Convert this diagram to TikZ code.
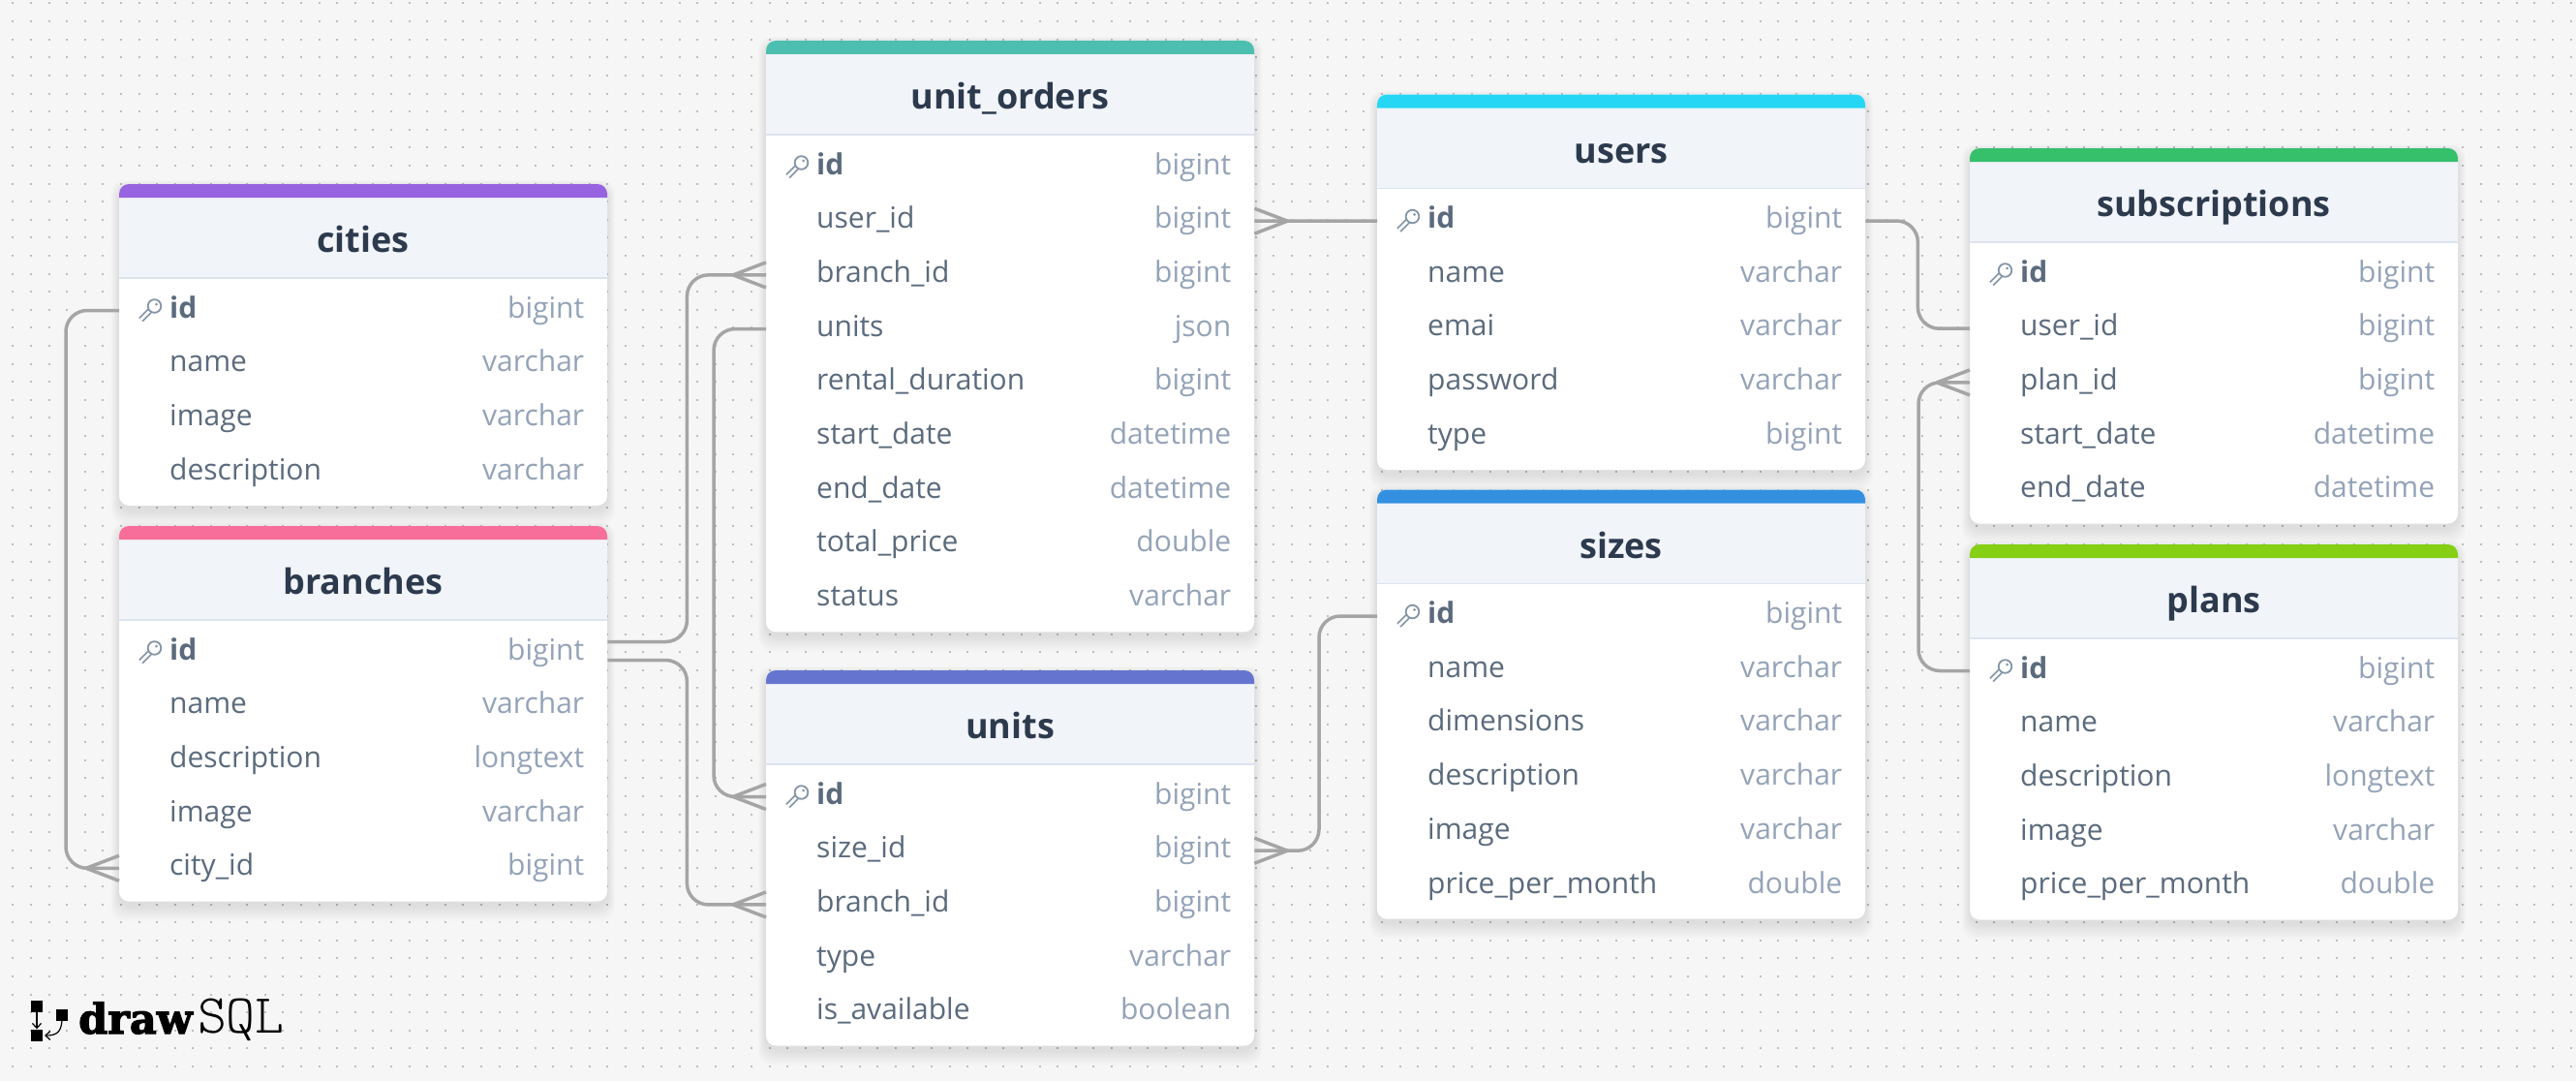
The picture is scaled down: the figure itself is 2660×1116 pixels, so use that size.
\documentclass[tikz,border=0pt]{standalone}
\usepackage{fontspec}
\setmainfont{Open Sans}
\newfontfamily\logoheavy[BoldFeatures={FakeBold=2.6}]{DejaVu Serif}
\usetikzlibrary{calc, arrows.meta}

\definecolor{bgc}{HTML}{F6F6F6}
\definecolor{dotc}{HTML}{BEBEBE}
\definecolor{headc}{HTML}{F1F4F9}
\definecolor{rulec}{HTML}{DCE4F0}
\definecolor{titlec}{HTML}{2D3A4E}
\definecolor{fieldc}{HTML}{5B6B7D}
\definecolor{typec}{HTML}{94A3B8}
\definecolor{keyc}{HTML}{8495A8}
\definecolor{linkc}{HTML}{A5A5A5}
\definecolor{barcities}{HTML}{9863E0}
\definecolor{barbranches}{HTML}{F76E9A}
\definecolor{barorders}{HTML}{4DBFB0}
\definecolor{barunits}{HTML}{6575CF}
\definecolor{barusers}{HTML}{25D7F5}
\definecolor{barsizes}{HTML}{3390E0}
\definecolor{barsubs}{HTML}{36C06C}
\definecolor{barplans}{HTML}{85CF15}

\tikzset{
	link/.style={draw=linkc, line width=3.5pt, rounded corners=22pt},
	title/.style={font=\fontsize{36}{40}\bfseries\selectfont, text=titlec, inner sep=0pt, anchor=base},
	fieldrow/.style={inner sep=0pt, minimum height=55.7pt, text height=22pt, text depth=7pt,
		font=\fontsize{30}{34}\selectfont},
	crowleft/.pic={\draw[link, rounded corners=0pt, line join=round] (0,-13) -- (-34,0) -- (0,13);},
	crowright/.pic={\draw[link, rounded corners=0pt, line join=round] (0,-13) -- (34,0) -- (0,13);},
	keyicon/.pic={
		\draw[keyc, line width=1.8pt, double=white, double distance=2.6pt] (-1,1) -- (-10,10);
		\draw[keyc, line width=1.8pt, fill=white] (4,-4) circle (6.8);
		\fill[keyc] (6,-6) circle (1.5);
	},
}

% name, x, y, colour, number of rows, rows after the id
\newcommand{\dbtable}[6]{
	\begin{scope}[shift={(#2,#3)}]
		\foreach \s in {16,14,...,2}
			\fill[black, opacity=.012, rounded corners=14pt] (-\s/2,4-\s/2) rectangle ({504+\s/2},{109+55.7*#5+4+\s});
		\fill[white, rounded corners=10pt] (0,0) rectangle ({504},{109+55.7*#5});
		\fill[headc] (0,14) rectangle (504,97);
		\draw[rulec, line width=1.5pt] (0,97) -- (504,97);
		\fill[#4] (0,14) [rounded corners=10pt] -- (0,0) -- (504,0) [sharp corners] -- (504,14) -- cycle;
		\node[title] (#1-head) at (252,70.5) {#1};
		\node[fieldrow, anchor=west] (#1-id) at (0,130.5)
			{\makebox[504pt]{\hspace{52pt}\textcolor{fieldc}{\textbf{id}}\hfill\textcolor{typec}{bigint}\hspace{24pt}}};
		\pic at (32.5,130) {keyicon};
		\foreach \fld/\typ [count=\i] in {#6}
			\node[fieldrow, anchor=west] (#1-\fld) at (0,{130.5+55.7*\i})
				{\makebox[504pt]{\hspace{52pt}\textcolor{fieldc}{\fld}\hfill\textcolor{typec}{\typ}\hspace{24pt}}};
	\end{scope}
}

\catcode`\_=12
\begin{document}
\begin{tikzpicture}[x=1pt, y=-1pt]

	\useasboundingbox (0,0) rectangle (2660,1116);
	\fill[bgc] (0,0) rectangle (2660,1116);
	\foreach \j in {0,...,59}
		\draw[dotc, line width=2pt, dash pattern=on 2pt off 16.6pt] (12.4,{3.5+18.6*\j}) -- (2660,{3.5+18.6*\j});

	\dbtable{cities}{123}{190}{barcities}{4}{name/varchar, image/varchar, description/varchar}
	\dbtable{branches}{123}{543}{barbranches}{5}{name/varchar, description/longtext, image/varchar, city_id/bigint}
	\dbtable{unit_orders}{791}{42}{barorders}{9}{user_id/bigint, branch_id/bigint, units/json, rental_duration/bigint, start_date/datetime, end_date/datetime, total_price/double, status/varchar}
	\dbtable{units}{791}{692}{barunits}{5}{size_id/bigint, branch_id/bigint, type/varchar, is_available/boolean}
	\dbtable{users}{1422}{97.5}{barusers}{5}{name/varchar, emai/varchar, password/varchar, type/bigint}
	\dbtable{sizes}{1422}{505.5}{barsizes}{6}{name/varchar, dimensions/varchar, description/varchar, image/varchar, price_per_month/double}
	\dbtable{subscriptions}{2034}{153}{barsubs}{5}{user_id/bigint, plan_id/bigint, start_date/datetime, end_date/datetime}
	\dbtable{plans}{2034}{562}{barplans}{5}{name/varchar, description/longtext, image/varchar, price_per_month/double}

	% relations
	\draw[link] (cities-id.west) -- ++(-55,0) |- (branches-city_id.west);
	\pic at (branches-city_id.west) {crowleft};

	\draw[link] ([yshift=11pt]branches-id.east) -- ++(82,0) |- (unit_orders-branch_id.west);
	\pic at (unit_orders-branch_id.west) {crowleft};

	\draw[link] ([yshift=-8pt]branches-id.east) -- ++(82,0) |- (units-branch_id.west);
	\pic at (units-branch_id.west) {crowleft};

	\draw[link] (unit_orders-units.west) -- ++(-54,0) |- (units-id.west);
	\pic at (units-id.west) {crowleft};

	\draw[link] (users-id.west) -- (unit_orders-user_id.east);
	\pic at (unit_orders-user_id.east) {crowright};

	\draw[link] (sizes-id.west) -- ++(-60,0) |- (units-size_id.east);
	\pic at (units-size_id.east) {crowright};

	\draw[link] (users-id.east) -- ++(54,0) |- (subscriptions-user_id.west);

	\draw[link] (plans-id.west) -- ++(-53,0) |- (subscriptions-plan_id.west);
	\pic at (subscriptions-plan_id.west) {crowleft};

	% logo
	\node[fill=black, minimum size=12pt, inner sep=0pt] (logoa) at (38,1039) {};
	\node[fill=black, minimum size=12pt, inner sep=0pt] (logob) at (38,1068.5) {};
	\node[fill=black, minimum size=12pt, inner sep=0pt] (logoc) at (64,1047.5) {};
	\draw[-{Straight Barb[length=5pt,width=9pt]}, line width=1.2pt] (logoa) -- (logob);
	\draw[-{Straight Barb[length=5pt,width=9pt]}, line width=1.2pt] (logoc.south) .. controls (63,1066) and (58,1069) .. (46,1069);
	\node[anchor=base west, inner sep=0pt, font=\logoheavy\fontsize{43}{43}\bfseries\selectfont] (logodraw) at (81,1067) {draw};
	\node[anchor=base east, inner sep=0pt, font=\fontsize{57}{57}\ttfamily\fontseries{l}\selectfont] (logosql) at (294,1066) {SQL};

\end{tikzpicture}
\end{document}
